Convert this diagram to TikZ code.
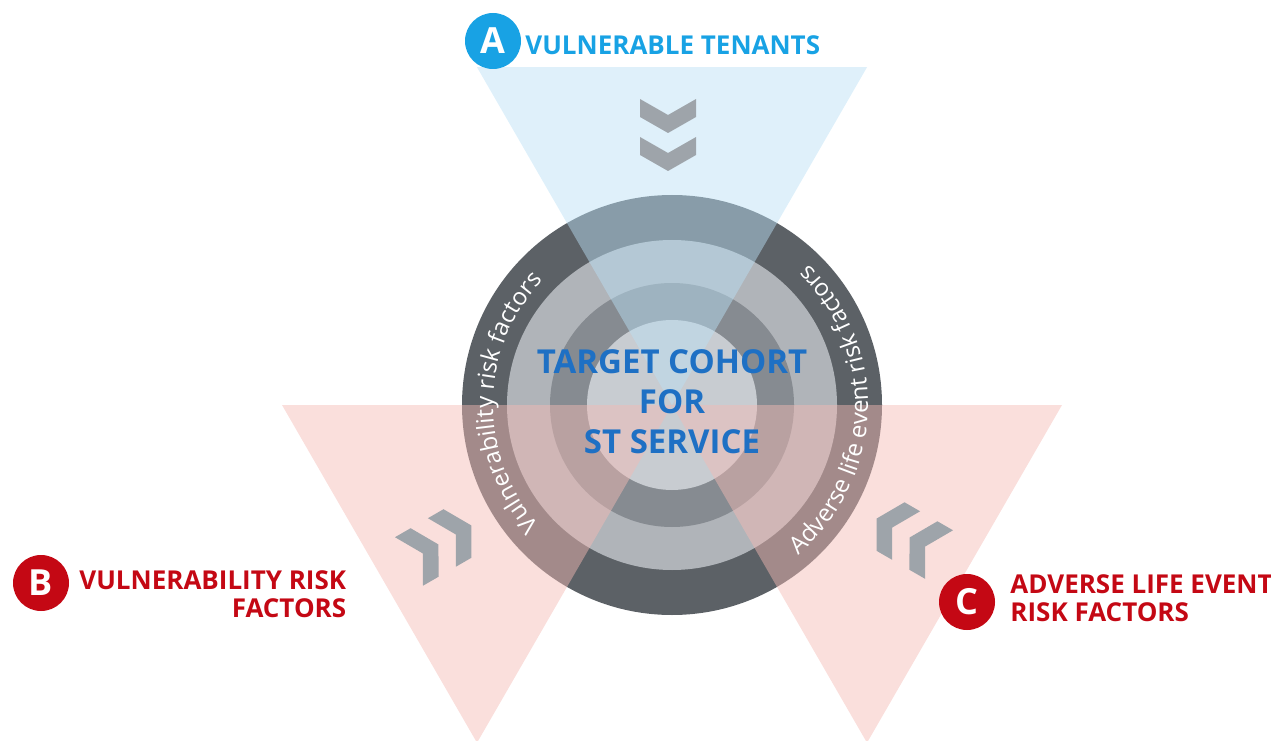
\documentclass[tikz,border=0pt]{standalone}
\usepackage{fontspec}
\setmainfont{Open Sans}
\usetikzlibrary{calc,positioning,decorations.text}

\definecolor{tenantblue}{RGB}{24,162,228}
\definecolor{cohortblue}{RGB}{30,112,196}
\definecolor{riskred}{RGB}{196,8,20}
\definecolor{ringdark}{RGB}{92,97,102}
\definecolor{ringlight}{RGB}{176,180,185}
\definecolor{ringmid}{RGB}{134,139,145}
\definecolor{ringcore}{RGB}{200,204,209}
\definecolor{wedgeblue}{RGB}{186,224,245}
\definecolor{wedgered}{RGB}{244,186,180}
\definecolor{chevgray}{RGB}{158,164,170}

\begin{document}
\begin{tikzpicture}[
  x=1pt, y=1pt,
  every node/.style={font=\bfseries},
  badge/.style={circle, fill=#1, minimum size=56pt, inner sep=0pt, text=white, font=\fontsize{36}{36}\selectfont\bfseries},
  heading/.style={text=#1, inner sep=0pt, font=\fontsize{26}{28}\selectfont\bfseries},
  wedge/.style={fill=#1, fill opacity=0.47},
  chevron/.style={fill=chevgray},
  ringtext/.style={decorate, decoration={text along path, text align=center, text={|\fontsize{24}{24}\selectfont\mdseries\color{white}|#1}}}
]
  \useasboundingbox (0,0) rectangle (1271,740);
  \coordinate (c) at (672,335);

  \fill[ringdark] (c) circle[radius=210];
  \fill[ringlight] (c) circle[radius=165];
  \fill[ringmid] (c) circle[radius=122];
  \fill[ringcore] (c) circle[radius=85];

  \fill[wedge=wedgeblue] (c) -- ($(c)+(60:390)$) -- ($(c)+(120:390)$) -- cycle;
  \fill[wedge=wedgered] (c) -- ($(c)+(180:390)$) -- ($(c)+(240:390)$) -- cycle;
  \fill[wedge=wedgered] (c) -- ($(c)+(300:390)$) -- ($(c)+(360:390)$) -- cycle;

  \foreach \turn in {0,120,-120}
    \foreach \lift in {306,268}
      \fill[chevron, shift={(c)}, rotate=\turn]
        (-32,\lift) -- (-4,\lift-16) -- (24,\lift) -- (24,\lift-18) -- (-4,\lift-34) -- (-32,\lift-18) -- cycle;

  \path[ringtext={Vulnerability risk factors}] ($(c)+(232:179)$) arc[start angle=232, end angle=126, radius=179];
  \path[ringtext={Adverse life event risk factors}] ($(c)+(-57:196)$) arc[start angle=-57, end angle=53, radius=196];

  \node[text=cohortblue, align=center, font=\fontsize{33}{40}\selectfont\bfseries] (cohort) at ($(c)+(0,3)$) {TARGET COHORT\\FOR\\ST SERVICE};

  \node[badge=tenantblue] (a) at (493,699) {A};
  \node[heading=tenantblue, right=4pt of a, yshift=-4pt] (tenants) {VULNERABLE TENANTS};

  \node[badge=riskred] (b) at (41,157) {B};
  \node[heading=riskred, align=right, right=10pt of b, yshift=-11pt] (vuln) {VULNERABILITY RISK\\FACTORS};

  \node[badge=riskred] (cc) at (967,138) {C};
  \node[heading=riskred, align=left, right=15pt of cc, yshift=4pt] (adverse) {ADVERSE LIFE EVENT\\RISK FACTORS};
\end{tikzpicture}
\end{document}
